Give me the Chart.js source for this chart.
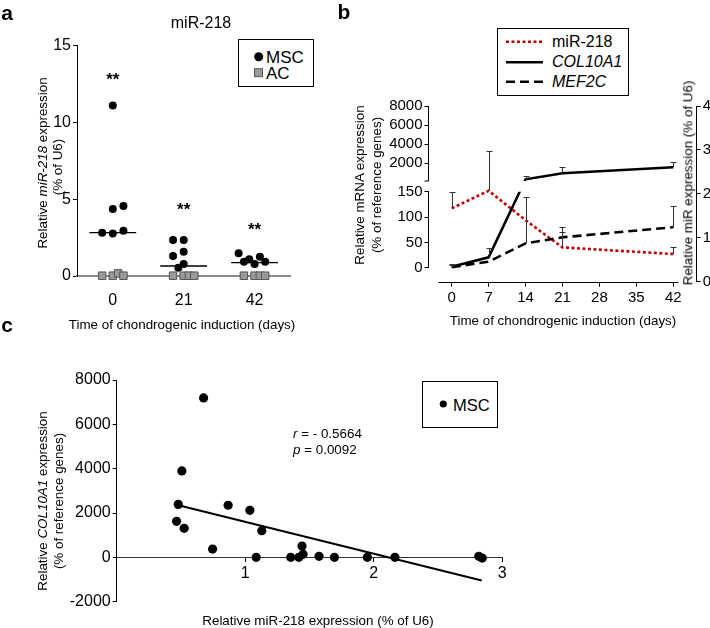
<!DOCTYPE html>
<html>
<head>
<meta charset="utf-8">
<script src="https://cdn.jsdelivr.net/npm/chart.js@4/dist/chart.umd.min.js"></script>
<style>
  html, body { margin: 0; padding: 0; background: #fff; }
  #page { position: relative; width: 710px; height: 628px; overflow: hidden;
          font-family: "Liberation Sans", Arial, sans-serif; color: #000; }
  canvas { position: absolute; }
  .t { position: absolute; white-space: nowrap; line-height: 1; transform: translate(-50%, -50%); }
  .l { position: absolute; white-space: nowrap; line-height: 1; transform: translate(0, -50%); }
  .v { transform: translate(-50%, -50%) rotate(-90deg); }
  .letter { font-weight: bold; font-size: 21px; }
  .title { font-size: 13.4px; }
  .lg { position: absolute; border: 1.5px solid #000; box-sizing: border-box; background: #fff; }
  svg { position: absolute; overflow: visible; }
</style>
</head>
<body>
<div id="page">
  <canvas id="chartA" width="340" height="340" style="left:0;top:0"></canvas>
  <canvas id="chartB" width="370" height="340" style="left:340px;top:0"></canvas>
  <canvas id="chartC" width="710" height="298" style="left:0;top:330px"></canvas>

  <!-- panel a -->
  <div class="t letter" style="left:7px;top:12px">a</div>
  <div class="t" style="left:201px;top:23px;font-size:16px">miR-218</div>
  <div class="t title v" style="left:43px;top:163px">Relative <i>miR-218</i> expression</div>
  <div class="t title v" style="left:58px;top:167px">(% of U6)</div>
  <div class="t title" style="left:182px;top:325px">Time of chondrogenic induction (days)</div>
  <div class="lg" style="left:238px;top:39px;width:76px;height:48px"></div>
  <svg style="left:0;top:0" width="1" height="1">
    <circle cx="258.7" cy="56.7" r="4.5" fill="#000"></circle>
    <rect x="254.5" y="68.7" width="8" height="8" fill="#9a9a9a" stroke="#555" stroke-width="1"></rect>
  </svg>
  <div class="l" style="left:266px;top:57px;font-size:17px">MSC</div>
  <div class="l" style="left:266px;top:73px;font-size:17px">AC</div>

  <!-- panel b -->
  <div class="t letter" style="left:344px;top:11px">b</div>
  <div class="lg" style="left:497px;top:28px;width:132px;height:68px"></div>
  <svg style="left:0;top:0" width="1" height="1">
    <line x1="506" y1="41.7" x2="543" y2="41.7" stroke="#c00000" stroke-width="2.5" stroke-dasharray="3 2.5"></line>
    <line x1="506" y1="62.3" x2="543" y2="62.3" stroke="#000" stroke-width="2.5"></line>
    <line x1="506" y1="81.7" x2="543" y2="81.7" stroke="#000" stroke-width="2.5" stroke-dasharray="9 5"></line>
  </svg>
  <div class="l" style="left:552px;top:42px;font-size:16px">miR-218</div>
  <div class="l" style="left:552px;top:62px;font-size:16px"><i>COL10A1</i></div>
  <div class="l" style="left:552px;top:82px;font-size:16px"><i>MEF2C</i></div>
  <div class="t title v" style="left:360px;top:185px">Relative mRNA expression</div>
  <div class="t title v" style="left:377px;top:185px">(% of reference genes)</div>
  <div class="t title v" style="left:688px;top:183px">Relative miR expression (% of U6)</div>
  <div class="t title" style="left:563px;top:321px">Time of chondrogenic induction (days)</div>

  <!-- panel c -->
  <div class="t letter" style="left:7px;top:324px">c</div>
  <div class="t title v" style="left:43px;top:501px">Relative <i>COL10A1</i> expression</div>
  <div class="t title v" style="left:59px;top:501px">(% of reference genes)</div>
  <div class="t title" style="left:318px;top:621px">Relative miR-218 expression (% of U6)</div>
  <div class="lg" style="left:422px;top:381px;width:76px;height:47px"></div>
  <svg style="left:0;top:0" width="1" height="1">
    <circle cx="443.3" cy="404" r="3.6" fill="#000"></circle>
  </svg>
  <div class="l" style="left:453px;top:405px;font-size:16.5px">MSC</div>
  <div class="l title" style="left:293px;top:434px"><i>r</i> = - 0.5664</div>
  <div class="l title" style="left:293px;top:450px"><i>p</i> = 0.0092</div>
</div>

<script>
const FONT = '"Liberation Sans", Arial, sans-serif';
Chart.defaults.font.family = FONT;
Chart.defaults.color = '#000';

// ---- panel a: miR-218 in MSC vs AC ----
const DAYS_A = ['0', '21', '42'];
const MSC_D0 = [11.1, 4.36, 4.56, 2.82, 2.76, 2.95];
const MSC_D21 = [2.35, 2.35, 1.30, 1.58, 0.54, 0.78];
const MSC_D42 = [1.48, 0.93, 1.09, 0.78, 1.26, 0.93];
const AC_D0 = [0.02, 0.02, 0.17, 0.02];
const AC_D21 = [0.02, 0.02, 0.02, 0.02];
const AC_D42 = [0.02, 0.02, 0.02, 0.02];
const MSC_MEDIAN = [2.82, 0.65, 0.87];
const STAR_Y = [13.0, 4.5, 3.2];

// ---- panel b: time course ----
const DAYS_B = [0, 7, 14, 21, 42];
const X_TICKS_B = [0, 7, 14, 21, 28, 35, 42];
const MIR218 = [1.67, 2.07, 1.40, 0.78, 0.63];
const MIR218_ERR = [2.04, 2.98, null, 1.14, 0.80];
const COL10A1 = [2, 20.5, 330, 963, 1597];
const COL10A1_ERR = [7, 38, 710, 1650, 2190];
const MEF2C = [1, 12, 48, 60, 80];
const MEF2C_ERR = [5, null, 140, 80, 122];
const LEFT_TICKS_B = [0, 50, 100, 150, 2000, 4000, 6000, 8000];

// ---- panel c: correlation ----
const C_MIR = [0.676, 0.507, 0.479, 0.466, 0.525, 0.746, 0.867, 1.036, 1.129, 1.085,
               1.354, 1.417, 1.442, 1.450, 1.574, 1.694, 1.950, 2.165, 2.817, 2.844];
const C_COL = [7190, 3900, 2390, 1625, 1310, 375, 2350, 2120, 1205, 0,
               0, 0, 510, 135, 45, 0, 0, 0, 45, -30];
const REG_X = [0.48, 2.84];
const REG_Y = [2350, -1040];

// jitter slots of the dot plot (layout only)
const SLOT_W = 0.075;
const MSC_SLOTS = [[0, 0, 2, -2, 0, 2], [-2, 0, -2, 0, -1, 0], [-3, -2, -1, 0, 1, 2]];
const AC_SLOTS = [[-2, 0, 1, 2], [-2, 0, 1, 2], [-2, 0, 1, 2]];

function slotPoints(groups, slots) {
    const pts = [];
    groups.forEach((vals, i) => {
        vals.forEach((v, j) => pts.push({ x: i + slots[i][j] * SLOT_W, y: v }));
    });
    return pts;
}

const tickFont = size => ({ family: FONT, size: size });
const asText = v => String(v);

// Stars above each group
const starPlugin = {
    id: 'stars',
    afterDatasetsDraw(chart) {
        const { ctx, scales: { x, y } } = chart;
        ctx.save();
        ctx.fillStyle = '#000';
        ctx.font = 'bold 17px ' + FONT;
        ctx.textAlign = 'center';
        ctx.textBaseline = 'middle';
        STAR_Y.forEach((v, i) => ctx.fillText('**', x.getPixelForValue(i), y.getPixelForValue(v) + 3.5));
        ctx.restore();
    }
};

// Panel a chart
const medianSets = MSC_MEDIAN.map((m, i) => ({
    type: 'line',
    data: [{ x: i - 0.33, y: m }, { x: i + 0.33, y: m }],
    borderColor: '#000',
    borderWidth: 1.3,
    pointRadius: 0
}));

new Chart(document.getElementById('chartA'), {
    type: 'scatter',
    data: {
        datasets: [
            ...medianSets,
            {
                data: slotPoints([AC_D0, AC_D21, AC_D42], AC_SLOTS),
                pointStyle: 'rect',
                pointRadius: 5.3,
                backgroundColor: '#9a9a9a',
                borderColor: '#555',
                borderWidth: 1,
                clip: false
            },
            {
                data: slotPoints([MSC_D0, MSC_D21, MSC_D42], MSC_SLOTS),
                pointStyle: 'circle',
                pointRadius: 4,
                backgroundColor: '#000',
                borderWidth: 0,
                clip: false
            }
        ]
    },
    options: {
        responsive: false,
        animation: false,
        events: [],
        plugins: { legend: { display: false }, tooltip: { enabled: false } },
        layout: { padding: { left: 0, top: 45.7, right: 50, bottom: 24 } },
        scales: {
            x: {
                type: 'linear',
                min: -0.505,
                max: 2.5,
                afterBuildTicks: s => { s.ticks = DAYS_A.map((d, i) => ({ value: i })); },
                ticks: { callback: v => DAYS_A[v], font: tickFont(16), padding: 15, maxRotation: 0 },
                grid: { display: false, drawTicks: false },
                border: { color: '#8c8c8c', width: 2 },
                afterFit: s => { s.height = 40; }
            },
            y: {
                min: 0,
                max: 15,
                ticks: { stepSize: 5, font: tickFont(16), padding: 2 },
                grid: { drawOnChartArea: false, color: '#000', tickLength: 4 },
                border: { color: '#000', width: 1 },
                afterFit: s => { s.width = 77; }
            }
        }
    },
    plugins: [starPlugin]
});

// ---- broken left axis for panel b ----
const BREAK_AT = 150;
const LOW_FRAC = [0.0797, 0.512];   // share of axis height (from bottom) for 0 and 150
const HIGH_FRAC = [0.573, 1];       // share for 150 and max in the upper segment

class BrokenScale extends Chart.LinearScale {
    static id = 'broken';
    static defaults = Chart.LinearScale.defaults;

    buildTicks() {
        return LEFT_TICKS_B.map(v => ({ value: v }));
    }
    frac(v) {
        if (v <= BREAK_AT) return LOW_FRAC[0] + (LOW_FRAC[1] - LOW_FRAC[0]) * v / BREAK_AT;
        return HIGH_FRAC[0] + (HIGH_FRAC[1] - HIGH_FRAC[0]) * (v - BREAK_AT) / (this.max - BREAK_AT);
    }
    getPixelForValue(v) {
        if (v === null || v === undefined) return NaN;
        return this.bottom - this.frac(v) * (this.bottom - this.top);
    }
    getValueForPixel(p) {
        const f = (this.bottom - p) / (this.bottom - this.top);
        if (f <= LOW_FRAC[1]) return (f - LOW_FRAC[0]) / (LOW_FRAC[1] - LOW_FRAC[0]) * BREAK_AT;
        return BREAK_AT + (f - HIGH_FRAC[0]) / (HIGH_FRAC[1] - HIGH_FRAC[0]) * (this.max - BREAK_AT);
    }
    gapPixels() {
        const h = this.bottom - this.top;
        return { upperEnd: this.bottom - HIGH_FRAC[0] * h, lowerStart: this.bottom - LOW_FRAC[1] * h };
    }
}
Chart.register(BrokenScale);

const brokenAxisPlugin = {
    id: 'brokenAxis',
    beforeDatasetDraw(chart, args) {
        const ds = chart.data.datasets[args.index];
        if (!ds.gapClip) return;
        const { ctx, chartArea: a } = chart;
        const gap = chart.scales.y.gapPixels();
        ctx.save();
        ctx.beginPath();
        ctx.rect(a.left - 5, a.top - 10, a.right - a.left + 10, gap.upperEnd - a.top + 10);
        ctx.rect(a.left - 5, gap.lowerStart, a.right - a.left + 10, a.bottom - gap.lowerStart + 10);
        ctx.clip();
    },
    afterDatasetDraw(chart, args) {
        if (chart.data.datasets[args.index].gapClip) chart.ctx.restore();
    },
    afterDraw(chart) {
        const { ctx, chartArea: a, scales: { x, y } } = chart;
        const gap = y.gapPixels();
        const ax = Math.round(a.left) - 0.5;
        ctx.save();
        ctx.strokeStyle = '#000';
        ctx.lineWidth = 1;
        ctx.beginPath();
        ctx.moveTo(ax, y.getPixelForValue(y.max));
        ctx.lineTo(ax, gap.upperEnd);
        ctx.moveTo(ax - 4, gap.upperEnd);
        ctx.lineTo(ax, gap.upperEnd);
        ctx.moveTo(ax, gap.lowerStart);
        ctx.lineTo(ax, y.getPixelForValue(0));
        const by = Math.round(a.bottom) + 0.5;
        ctx.moveTo(x.getPixelForValue(-2.5), by);
        ctx.lineTo(x.getPixelForValue(43), by);
        ctx.stroke();
        ctx.restore();
    }
};

const errorBarPlugin = {
    id: 'errorBars',
    afterDatasetsDraw(chart) {
        const { ctx } = chart;
        ctx.save();
        ctx.strokeStyle = '#333';
        ctx.lineWidth = 1;
        chart.data.datasets.forEach(ds => {
            if (!ds.errTop) return;
            const xs = chart.scales.x;
            const ys = chart.scales[ds.yAxisID];
            ds.errTop.forEach((top, i) => {
                if (top === null) return;
                const px = Math.round(xs.getPixelForValue(ds.data[i].x)) + 0.5;
                const y0 = ys.getPixelForValue(ds.data[i].y);
                const y1 = Math.round(ys.getPixelForValue(top)) + 0.5;
                ctx.beginPath();
                ctx.moveTo(px, y0);
                ctx.lineTo(px, y1);
                ctx.moveTo(px - 3, y1);
                ctx.lineTo(px + 3, y1);
                ctx.stroke();
            });
        });
        ctx.restore();
    }
};

const toPts = vals => vals.map((v, i) => ({ x: DAYS_B[i], y: v }));

new Chart(document.getElementById('chartB'), {
    type: 'line',
    data: {
        datasets: [
            {
                label: 'MEF2C',
                data: toPts(MEF2C),
                errTop: MEF2C_ERR,
                yAxisID: 'y',
                borderColor: '#000',
                borderWidth: 2.6,
                borderDash: [9, 5],
                pointRadius: 0
            },
            {
                label: 'COL10A1',
                data: toPts(COL10A1),
                errTop: COL10A1_ERR,
                gapClip: true,
                yAxisID: 'y',
                borderColor: '#000',
                borderWidth: 2.6,
                pointRadius: 0
            },
            {
                label: 'miR-218',
                data: toPts(MIR218),
                errTop: MIR218_ERR,
                yAxisID: 'y2',
                borderColor: '#c00000',
                borderWidth: 2.6,
                borderDash: [3, 2.5],
                pointRadius: 0
            }
        ]
    },
    options: {
        responsive: false,
        animation: false,
        events: [],
        plugins: { legend: { display: false }, tooltip: { enabled: false } },
        layout: { padding: { left: 0, top: 106, right: 0, bottom: 0 } },
        scales: {
            x: {
                type: 'linear',
                min: -4.4,
                max: 46.44,
                afterBuildTicks: s => { s.ticks = X_TICKS_B.map(v => ({ value: v })); },
                ticks: { callback: asText, font: tickFont(15), padding: 2, maxRotation: 0 },
                grid: { drawOnChartArea: false, color: '#000', tickLength: 5 },
                border: { display: false },
                afterFit: s => { s.height = 58.3; }
            },
            y: {
                type: 'broken',
                position: 'left',
                min: -30,
                max: 8000,
                ticks: { callback: asText, font: tickFont(15), padding: 2, autoSkip: false },
                grid: { drawOnChartArea: false, color: '#000', tickLength: 4 },
                border: { display: false },
                afterFit: s => { s.width = 88.5; }
            },
            y2: {
                type: 'linear',
                position: 'right',
                min: 0,
                max: 4,
                ticks: { stepSize: 1, callback: asText, font: tickFont(15), padding: 2 },
                grid: { drawOnChartArea: false, color: '#000', tickLength: 4 },
                border: { color: '#000', width: 1 },
                afterFit: s => { s.width = 13.3; }
            }
        }
    },
    plugins: [brokenAxisPlugin, errorBarPlugin]
});

// Panel c chart
new Chart(document.getElementById('chartC'), {
    type: 'scatter',
    data: {
        datasets: [
            {
                type: 'line',
                data: REG_X.map((x, i) => ({ x: x, y: REG_Y[i] })),
                borderColor: '#000',
                borderWidth: 2,
                pointRadius: 0
            },
            {
                data: C_MIR.map((x, i) => ({ x: x, y: C_COL[i] })),
                pointRadius: 4.6,
                backgroundColor: '#000',
                borderWidth: 0,
                clip: false
            }
        ]
    },
    options: {
        responsive: false,
        animation: false,
        events: [],
        plugins: { legend: { display: false }, tooltip: { enabled: false } },
        layout: { padding: { left: 0, top: 50, right: 207.7, bottom: 26.3 } },
        scales: {
            x: {
                type: 'linear',
                min: 0,
                max: 3,
                position: { y: 0 },
                afterBuildTicks: s => { s.ticks = [1, 2, 3].map(v => ({ value: v })); },
                ticks: { callback: asText, font: tickFont(16), padding: 3, maxRotation: 0 },
                grid: { drawOnChartArea: false, color: '#000', tickLength: 4 },
                border: { color: '#333', width: 1 }
            },
            y: {
                min: -2000,
                max: 8000,
                ticks: { stepSize: 2000, callback: asText, font: tickFont(16), padding: 2 },
                grid: { drawOnChartArea: false, color: '#000', tickLength: 4 },
                border: { color: '#000', width: 1 },
                afterFit: s => { s.width = 116.7; }
            }
        }
    }
});
</script>
</body>
</html>
